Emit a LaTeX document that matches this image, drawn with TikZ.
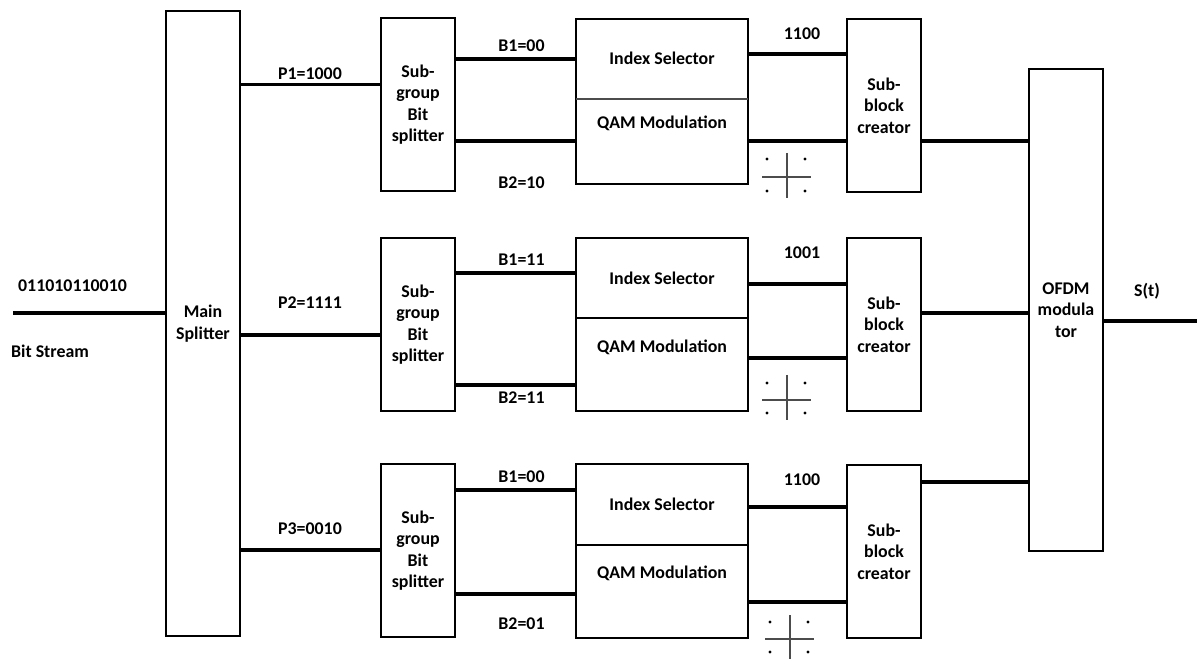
\documentclass[tikz,border=0pt]{standalone}
\usepackage{fontspec}
\setmainfont{Carlito}[BoldFont={Carlito Bold}]
\begin{document}
\begin{tikzpicture}[x=0.75pt,y=-0.75pt,
  every node/.style={font=\bfseries\fontsize{13.4}{16}\selectfont},
  blk/.style={draw, line width=1.5pt, inner sep=0pt, outer sep=0pt, align=center},
  lbl/.style={inner sep=0pt},
  wire/.style={line width=2.7pt},
  divthin/.style={line width=0.8pt, black!70},
  divthick/.style={line width=1.5pt},
  axis/.style={line width=0.8pt, black!70},
  dot/.style={fill=black, draw=none}
]
\useasboundingbox (0,0) rectangle (1197,659);

% main splitter and OFDM
\node[blk, minimum width=55.5pt, minimum height=468.75pt] (ms) at (203,323.5) {Main\\Splitter};
\node[blk, minimum width=55.5pt, minimum height=361.5pt] (of) at (1066,310) {OFDM\\modula\\tor};

% sub-group bit splitters
\node[blk, minimum width=55.5pt, minimum height=129.75pt] (sg1) at (418,104.5) {Sub-\\group\\Bit\\splitter};
\node[blk, minimum width=55.5pt, minimum height=129.75pt] (sg2) at (418,324.5) {Sub-\\group\\Bit\\splitter};
\node[blk, minimum width=55.5pt, minimum height=129.75pt] (sg3) at (418,550.5) {Sub-\\group\\Bit\\splitter};

% index / QAM boxes
\node[blk, minimum width=129pt, minimum height=123.75pt] (iq1) at (662,101.5) {};
\node[blk, minimum width=129pt, minimum height=129.75pt] (iq2) at (662,324.5) {};
\node[blk, minimum width=129pt, minimum height=130.5pt] (iq3) at (662,551) {};
\draw[divthin] (iq1.west |- 0,99) -- (iq1.east |- 0,99);
\draw[divthick] (iq2.west |- 0,318) -- (iq2.east |- 0,318);
\draw[divthick] (iq3.west |- 0,545) -- (iq3.east |- 0,545);
\node[lbl] (is1) at (662,58) {Index Selector};
\node[lbl] (qm1) at (662,123) {QAM Modulation};
\node[lbl] (is2) at (662,278) {Index Selector};
\node[lbl] (qm2) at (662,347) {QAM Modulation};
\node[lbl] (is3) at (662,504) {Index Selector};
\node[lbl] (qm3) at (662,573) {QAM Modulation};

% sub-block creators
\node[blk, minimum width=55.5pt, minimum height=129.75pt] (sb1) at (884,105.5) {Sub-\\block\\creator};
\node[blk, minimum width=55.5pt, minimum height=129.75pt] (sb2) at (884,324.5) {Sub-\\block\\creator};
\node[blk, minimum width=55.5pt, minimum height=129.75pt] (sb3) at (884,551.5) {Sub-\\block\\creator};

% free ends
\coordinate (bsin) at (13,313);
\coordinate (stout) at (1197,321);

% input / output
\draw[wire] (bsin) -- (ms.west |- bsin);
\draw[wire] (of.east |- stout) -- (stout);
\node[lbl] (bits) at (72.5,286) {011010110010};
\node[lbl] (bsl) at (50,351) {Bit Stream};
\node[lbl] (stl) at (1147,291) {S(t)};

% row 1
\draw[wire] (ms.east |- 0,84.5) -- (sg1.west |- 0,84.5);
\draw[wire] (sg1.east |- 0,59) -- (iq1.west |- 0,59);
\draw[wire] (sg1.east |- 0,141) -- (iq1.west |- 0,141);
\draw[wire] (iq1.east |- 0,54) -- (sb1.west |- 0,54);
\draw[wire] (iq1.east |- 0,141) -- (sb1.west |- 0,141);
\draw[wire] (sb1.east |- 0,141) -- (of.west |- 0,141);
\node[lbl] (p1) at (310,74) {P1=1000};
\node[lbl] (b11) at (521.5,46) {B1=00};
\node[lbl] (b21) at (521.5,183) {B2=10};
\node[lbl] (o1) at (802,34) {1100};

% row 2
\draw[wire] (ms.east |- 0,335) -- (sg2.west |- 0,335);
\draw[wire] (sg2.east |- 0,273) -- (iq2.west |- 0,273);
\draw[wire] (sg2.east |- 0,385) -- (iq2.west |- 0,385);
\draw[wire] (iq2.east |- 0,284) -- (sb2.west |- 0,284);
\draw[wire] (iq2.east |- 0,358) -- (sb2.west |- 0,358);
\draw[wire] (sb2.east |- 0,313) -- (of.west |- 0,313);
\node[lbl] (p2) at (310,303) {P2=1111};
\node[lbl] (b12) at (521.5,260) {B1=11};
\node[lbl] (b22) at (521.5,398) {B2=11};
\node[lbl] (o2) at (802,253) {1001};

% row 3
\draw[wire] (ms.east |- 0,550) -- (sg3.west |- 0,550);
\draw[wire] (sg3.east |- 0,490) -- (iq3.west |- 0,490);
\draw[wire] (sg3.east |- 0,594) -- (iq3.west |- 0,594);
\draw[wire] (iq3.east |- 0,507) -- (sb3.west |- 0,507);
\draw[wire] (iq3.east |- 0,602) -- (sb3.west |- 0,602);
\draw[wire] (sb3.east |- 0,482) -- (of.west |- 0,482);
\node[lbl] (p3) at (310,529) {P3=0010};
\node[lbl] (b13) at (521.5,477) {B1=00};
\node[lbl] (b23) at (521.5,624) {B2=01};
\node[lbl] (o3) at (802,480) {1100};

% constellations
\draw[axis] (787,153) -- (787,198);
\draw[axis] (762,177) -- (811,177);
\foreach \a/\b in {767/159,805/159,767/191,805/191} \fill[dot] (\a,\b) circle (1.3pt);
\draw[axis] (787,375) -- (787,420);
\draw[axis] (762,400) -- (811,400);
\foreach \a/\b in {767/383,805/383,767/413,805/413} \fill[dot] (\a,\b) circle (1.3pt);
\draw[axis] (790,615) -- (790,659);
\draw[axis] (765,639) -- (814,639);
\foreach \a/\b in {770/622,808/622,770/652,808/652} \fill[dot] (\a,\b) circle (1.3pt);
\end{tikzpicture}
\end{document}
